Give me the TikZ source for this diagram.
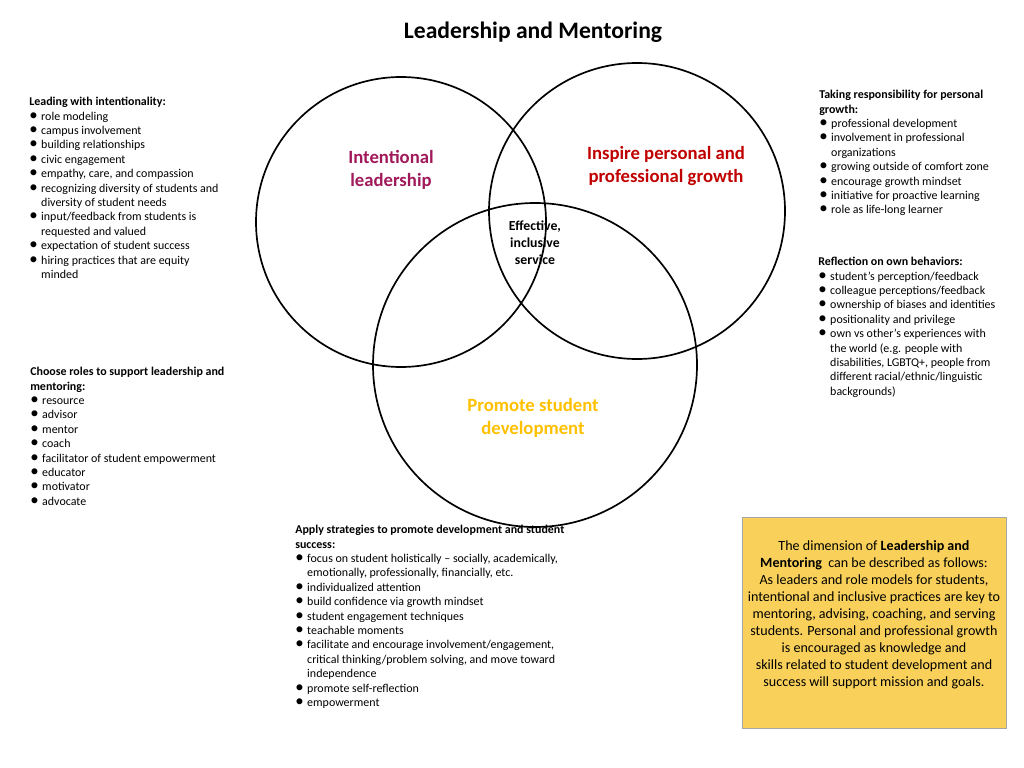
\documentclass[tikz,border=0pt]{standalone}
\usepackage{fontspec}
\setmainfont{Carlito}
\definecolor{intcol}{HTML}{A0195A}
\definecolor{inscol}{HTML}{C00000}
\definecolor{procol}{HTML}{FFC000}
\definecolor{boxfill}{HTML}{F9D15A}
\newcommand{\bl}{\makebox[1.0em][l]{\large\textbullet}}
\newcommand{\ind}{\hspace*{1.0em}}
\begin{document}
\begin{tikzpicture}[x=0.025cm,y=-0.025cm,
    venn/.style={draw=black, line width=1.2pt},
    blocktext/.style={anchor=north west, inner sep=0pt, align=left, font=\fontsize{8.5}{10.25}\selectfont},
    circlabel/.style={align=center, font=\fontsize{13.3}{16.5}\selectfont\bfseries}]
    \useasboundingbox (0,0) rectangle (1024,768);

    % Title
    \node[font=\fontsize{16.8}{18}\selectfont\bfseries] (title) at (533,32) {Leadership and Mentoring};

    % Circles
    \draw[venn] (401,222) circle (145);
    \draw[venn] (637,211) circle (148);
    \draw[venn] (535,365) circle (162);

    % Circle labels
    \node[circlabel, text=intcol] (intent) at (391,170) {Intentional\\leadership};
    \node[circlabel, text=inscol] (inspire) at (666,166) {Inspire personal and\\professional growth};
    \node[circlabel, text=procol] (promote) at (533,418) {Promote student\\development};
    \node[align=center, font=\fontsize{9.8}{12}\selectfont\bfseries] (core) at (535,243) {Effective,\\inclusive\\service};

    % Left blocks
    \node[blocktext] (leading) at (29,97) {\textbf{Leading with intentionality:}\\
    \bl role modeling\\
    \bl campus involvement\\
    \bl building relationships\\
    \bl civic engagement\\
    \bl empathy, care, and compassion\\
    \bl recognizing diversity of students and\\
    \ind diversity of student needs\\
    \bl input/feedback from students is\\
    \ind requested and valued\\
    \bl expectation of student success\\
    \bl hiring practices that are equity\\
    \ind minded};

    \node[blocktext] (roles) at (30,367) {\textbf{Choose roles to support leadership and}\\
    \textbf{mentoring:}\\
    \bl resource\\
    \bl advisor\\
    \bl mentor\\
    \bl coach\\
    \bl facilitator of student empowerment\\
    \bl educator\\
    \bl motivator\\
    \bl advocate};

    % Right blocks
    \node[blocktext] (growth) at (819,90) {\textbf{Taking\ responsibility for\ personal}\\
    \textbf{growth:}\\
    \bl professional development\\
    \bl involvement in professional\\
    \ind organizations\\
    \bl growing\ outside of comfort zone\\
    \bl encourage growth mindset\\
    \bl initiative for proactive learning\\
    \bl role as life-long learner};

    \node[blocktext] (reflect) at (818,257) {\textbf{Reflection on own behaviors:}\\
    \bl student’s perception/feedback\\
    \bl colleague perceptions/feedback\\
    \bl ownership of biases and identities\\
    \bl positionality and privilege\\
    \bl own vs other’s experiences with\\
    \ind the world (e.g. people with\\
    \ind disabilities, LGBTQ+, people from\\
    \ind different racial/ethnic/linguistic\\
    \ind backgrounds)};

    % Bottom block
    \node[blocktext] (apply) at (295,525) {\textbf{Apply strategies to promote development and student}\\
    \textbf{success:}\\
    \bl focus on student holistically -- socially, academically,\\
    \ind emotionally, professionally, financially, etc.\\
    \bl individualized attention\\
    \bl build confidence via growth mindset\\
    \bl student engagement techniques\\
    \bl teachable moments\\
    \bl facilitate and encourage involvement/engagement,\\
    \ind critical thinking/problem solving, and move toward\\
    \ind independence\\
    \bl promote self-reflection\\
    \bl empowerment};

    % Summary box
    \draw[draw=gray!70, fill=boxfill] (742,517) rectangle (1006,728);
    \node[align=center, font=\fontsize{10}{12.1}\selectfont] (summary) at (874,615) {The dimension of \textbf{Leadership and}\\
    \textbf{Mentoring}\ \ can be described as follows:\\
    As leaders and role models for students,\\
    intentional and inclusive practices are key to\\
    mentoring, advising, coaching, and serving\\
    students. Personal and professional growth\\
    is encouraged as knowledge and\\
    skills related to student development and\\
    success will support mission and goals.};
\end{tikzpicture}
\end{document}
